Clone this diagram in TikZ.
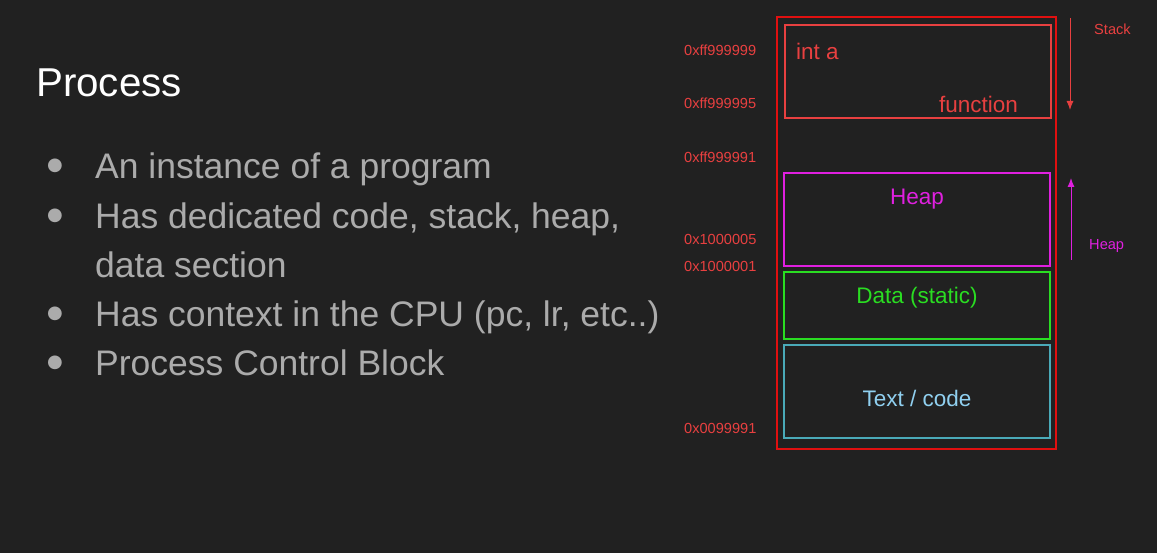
\documentclass[tikz,border=0pt]{standalone}
\usepackage{fontspec}
\setmainfont{Liberation Sans}
\newfontfamily\symfont{DejaVu Sans}
\usetikzlibrary{arrows.meta}
\definecolor{bg}{HTML}{212121}
\definecolor{bullettext}{HTML}{ABABAB}
\definecolor{addr}{HTML}{E84040}
\definecolor{outerred}{HTML}{E01010}
\definecolor{stackred}{HTML}{E84040}
\definecolor{heapmag}{HTML}{E020E0}
\definecolor{datagreen}{HTML}{2ADD22}
\definecolor{codeedge}{HTML}{4AAAB8}
\definecolor{codetext}{HTML}{90D0F0}
\tikzset{
  item/.style={anchor=base west, text=bullettext, font=\fontsize{35.5}{42}\selectfont, inner sep=0pt},
  dot/.style={anchor=center, text=bullettext, font=\fontsize{18}{20}\selectfont\symfont, inner sep=0pt},
  addrlabel/.style={anchor=west, text=addr, font=\fontsize{14.6}{17}\selectfont, inner sep=0pt},
  sidelabel/.style={anchor=west, font=\fontsize{14.6}{17}\selectfont, inner sep=0pt},
  boxtext/.style={font=\fontsize{22.5}{27}\selectfont, inner sep=0pt},
  growth/.style={line width=1pt, -{Latex[length=9pt,width=7pt]}},
}
\begin{document}
\begin{tikzpicture}[x=1pt,y=-1pt]
  \fill[bg] (0,0) rectangle (1157,553);
  \useasboundingbox (0,0) rectangle (1157,553);

  % title and bullet list
  \node[anchor=base west, text=white, font=\fontsize{40.3}{48}\selectfont, inner sep=0pt] (title) at (36,97) {Process};
  \node[dot] (d1) at (55,166) {●};
  \node[item] (b1) at (95,179) {An instance of a program};
  \node[dot] (d2) at (55,216) {●};
  \node[item] (b2) at (95,229) {Has dedicated code, stack, heap,};
  \node[item] (b2b) at (95,278) {data section};
  \node[dot] (d3) at (55,314) {●};
  \node[item] (b3) at (95,327) {Has context in the CPU (pc, lr, etc..)};
  \node[dot] (d4) at (55,363) {●};
  \node[item] (b4) at (95,376) {Process Control Block};

  % memory layout
  \draw[outerred, line width=1.3pt] (777,17) rectangle (1056,449);
  \draw[stackred, line width=1.3pt] (785,25) rectangle (1051,118);
  \node[boxtext, anchor=west, text=stackred] (inta) at (796,51) {int a};
  \node[boxtext, anchor=east, text=stackred] (func) at (1018,104) {function};
  \draw[heapmag, line width=1.3pt] (784,173) rectangle (1050,266);
  \node[boxtext, text=heapmag] (heap) at (917,199) {Heap};
  \draw[datagreen, line width=1.3pt] (784,272) rectangle (1050,339);
  \node[boxtext, text=datagreen] (data) at (917,298) {Data (static)};
  \draw[codeedge, line width=1.3pt] (784,345) rectangle (1050,438);
  \node[boxtext, text=codetext] (code) at (917,398) {Text / code};

  % addresses
  \node[addrlabel] (a1) at (684,50) {0xff999999};
  \node[addrlabel] (a2) at (684,103) {0xff999995};
  \node[addrlabel] (a3) at (684,157) {0xff999991};
  \node[addrlabel] (a4) at (684,239) {0x1000005};
  \node[addrlabel] (a5) at (684,266) {0x1000001};
  \node[addrlabel] (a6) at (684,428) {0x0099991};

  % growth directions
  \coordinate (stop) at (1070,18);
  \coordinate (sbot) at (1070,110);
  \draw[stackred, growth] (stop) -- (sbot);
  \node[sidelabel, text=stackred] (stacklbl) at (1094,29) {Stack};
  \coordinate (hbot) at (1071,260);
  \coordinate (htop) at (1071,178);
  \draw[heapmag, growth] (hbot) -- (htop);
  \node[sidelabel, text=heapmag] (heaplbl) at (1089,246) {Heap};
\end{tikzpicture}
\end{document}
